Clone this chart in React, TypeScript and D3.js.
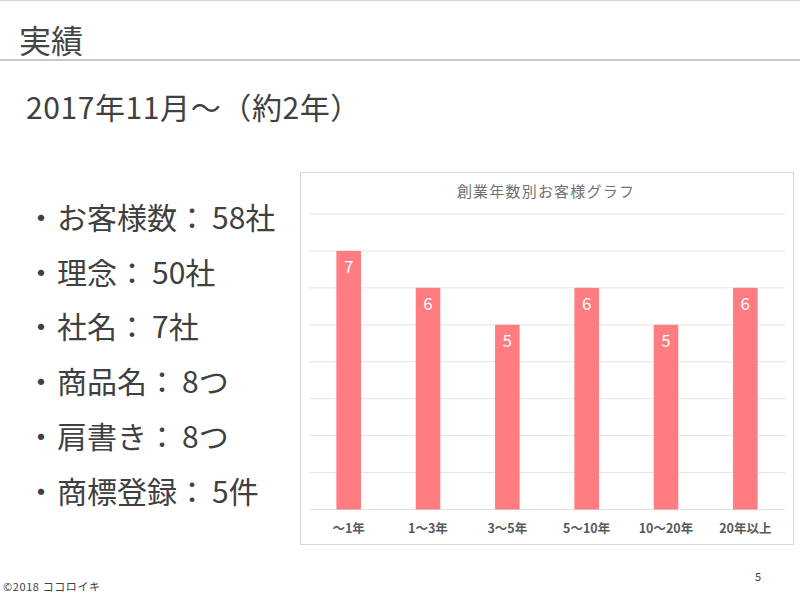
import React from "react";
import * as d3 from "d3";

const categories = ["～1年", "1～3年", "3～5年", "5～10年", "10～20年", "20年以上"];
const values = [7, 6, 5, 6, 5, 6];
const yTicks = [0, 1, 2, 3, 4, 5, 6, 7, 8];
const bulletLabels = ["お客様数", "理念", "社名", "商品名", "肩書き", "商標登録"];
const bulletValues = ["58社", "50社", "7社", "8つ", "8つ", "5件"];

const FONT = "'Noto Sans CJK JP', 'Noto Sans', sans-serif";

export default function App() {
  const W = 800, H = 600;
  const plotLeft = 309, plotRight = 785, plotTop = 214, plotBottom = 509.5;
  const x = d3.scaleBand<string>().domain(categories).range([plotLeft, plotRight]).paddingInner(0.69).paddingOuter(0.345);
  const y = d3.scaleLinear().domain([0, 8]).range([plotBottom, plotTop]);

  return (
    <svg width={W} height={H} style={{ position: "absolute", left: 0, top: 0, background: "#fff" }} fontFamily={FONT}>
      <rect x={0} y={0} width={W} height={H} fill="#fff" />
      <line x1={0} x2={W} y1={0.5} y2={0.5} stroke="#d9d9d9" strokeWidth={1.5} />
      <text x={19} y={53} fontSize={32} fill="#454545">実績</text>
      <line x1={0} x2={W} y1={60} y2={60} stroke="#c8c8c8" strokeWidth={2} />
      <text x={26} y={119} fontSize={30} fill="#404040" letterSpacing={0.6}>2017年11月～（約2年）</text>

      {bulletLabels.map((t, i) => (
        <g key={t}>
          <text x={41} y={229 + i * 54.7} textAnchor="middle" fontSize={30} fill="#404040">・</text>
          <text x={57} y={229 + i * 54.7} fontSize={30} fill="#404040">
            {t}：<tspan dx={5}>{bulletValues[i]}</tspan>
          </text>
        </g>
      ))}

      {/* chart box */}
      <rect x={300.5} y={172.5} width={493} height={372} fill="#fff" stroke="#d9d9d9" strokeWidth={1} />
      <text x={546} y={197} textAnchor="middle" fontSize={15} fill="#707070" letterSpacing={1.2}>創業年数別お客様グラフ</text>

      {yTicks.map((t) => (
        <line key={t} x1={plotLeft} x2={plotRight} y1={y(t)} y2={y(t)} stroke="#e3e3e3" strokeWidth={1} />
      ))}

      {values.map((v, i) => (
        <g key={categories[i]}>
          <rect x={x(categories[i])!} y={y(v)} width={x.bandwidth()} height={plotBottom - y(v)} fill="#ff7c80" />
          <text x={x(categories[i])! + x.bandwidth() / 2} y={y(v) + 22} textAnchor="middle" fontSize={17} fill="#fff">{v}</text>
        </g>
      ))}

      {categories.map((c) => (
        <text key={c} x={x(c)! + x.bandwidth() / 2} y={533} textAnchor="middle" fontSize={12.5} fontWeight="bold" fill="#595959">{c}</text>
      ))}

      <text x={3} y={591} fontSize={11} fill="#404040" letterSpacing={0.6}>©2018 ココロイキ</text>
      <text x={755} y={581} fontSize={11} fill="#404040">5</text>
    </svg>
  );
}
